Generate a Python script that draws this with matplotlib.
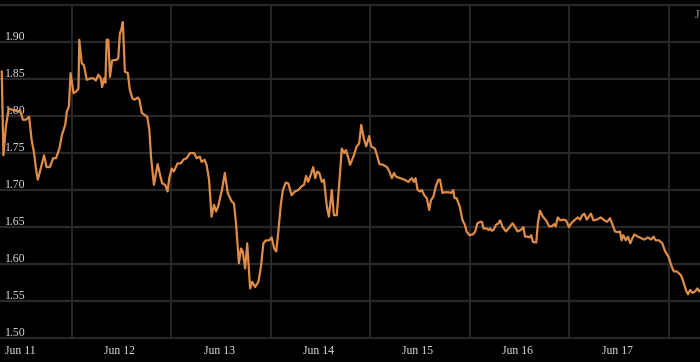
import matplotlib
matplotlib.use("Agg")
from matplotlib import pyplot as plt

# hours since Jun 11 00:00 and price
hours = [-4.4, -4.0, -3.4, -2.7, -1.6, -0.4, 0.0, 0.7, 1.4, 2.2, 2.8, 3.4, 3.9, 4.3, 5.0,
         5.8, 6.4, 7.2, 8.0, 8.7, 9.5, 10.1, 10.9, 11.3, 11.8, 12.2, 12.9, 13.5, 14.1, 14.3,
         14.9, 15.4, 16.1, 17.1, 17.7, 18.3, 18.9, 19.5, 19.8, 20.3, 20.6, 20.9, 21.3, 21.7,
         22.2, 23.3, 23.7, 24.1, 24.4, 24.8, 25.3, 26.0, 26.5, 27.1, 27.6, 28.4, 28.8, 29.4,
         30.2, 30.7, 31.2, 31.6, 32.3, 33.2, 33.8, 34.3, 35.0, 35.6, 36.0, 36.6, 37.1, 38.0,
         38.8, 39.4, 40.2, 41.0, 42.0, 42.6, 43.4, 43.8, 44.5, 45.0, 45.6, 46.2, 46.8, 47.3,
         47.8, 48.7, 49.4, 50.1, 50.7, 51.1, 51.6, 52.1, 52.8, 53.3, 53.7, 54.3, 54.8, 55.5,
         56.0, 56.7, 57.5, 58.1, 58.7, 59.3, 60.1, 60.7, 61.3, 61.8, 62.3, 62.9, 63.4, 64.1,
         64.7, 65.5, 66.3, 67.1, 67.9, 68.5, 69.0, 69.5, 70.1, 70.7, 71.2, 71.7, 72.2, 72.8,
         73.3, 74.0, 74.5, 75.2, 75.7, 76.4, 77.0, 77.6, 78.2, 78.6, 79.2, 79.6, 80.4, 81.2,
         81.8, 82.3, 82.9, 83.5, 84.2, 84.7, 85.6, 86.2, 86.7, 87.6, 88.5, 89.1, 89.7, 90.2,
         90.7, 91.7, 92.7, 93.7, 94.1, 94.5, 95.0, 95.4, 95.9, 96.5, 96.9, 97.5, 98.1, 98.7,
         99.1, 99.7, 100.3, 100.9, 101.3, 101.9, 102.5, 103.3, 104.0, 104.5, 104.8, 105.3,
         106.1, 106.6, 106.9, 107.3, 107.7, 108.4, 109.2, 109.8, 110.3, 111.0, 111.4, 111.8,
         112.6, 113.0, 113.4, 113.8, 114.2, 114.8, 115.4, 115.8, 116.4, 117.2, 117.8, 118.8,
         119.4, 120.0, 120.8, 121.4, 121.8, 122.4, 122.9, 123.3, 123.7, 124.5, 124.9, 125.4,
         126.1, 126.9, 127.6, 128.3, 128.8, 129.2, 129.7, 130.3, 131.1, 131.7, 132.4, 133.1,
         133.7, 134.5, 135.1, 135.6, 136.1, 136.7, 137.3, 137.7, 138.3, 139.1, 140.1, 140.7,
         141.5, 141.9, 142.3, 142.9, 143.5, 144.2, 144.7, 145.1, 145.5, 146.1, 146.6, 147.2,
         147.7, 148.2, 149.0, 149.8, 150.6, 151.4, 152.2, 152.8, 153.3, 154.1, 154.9, 155.6,
         156.4, 157.2, 157.7, 158.4, 159.4, 160.0, 160.6, 161.1, 161.6, 162.2, 162.8, 163.4,
         163.8, 164.2]
price = [1.860, 1.747, 1.786, 1.810, 1.808, 1.806, 1.808, 1.795, 1.795, 1.799, 1.768, 1.750,
         1.727, 1.714, 1.729, 1.747, 1.731, 1.731, 1.743, 1.743, 1.756, 1.774, 1.788, 1.806,
         1.813, 1.858, 1.831, 1.833, 1.837, 1.903, 1.871, 1.869, 1.849, 1.851, 1.851, 1.848,
         1.856, 1.851, 1.839, 1.851, 1.845, 1.903, 1.903, 1.853, 1.875, 1.876, 1.878, 1.912,
         1.916, 1.927, 1.860, 1.858, 1.835, 1.824, 1.822, 1.825, 1.822, 1.804, 1.801, 1.799,
         1.781, 1.745, 1.707, 1.735, 1.720, 1.709, 1.707, 1.698, 1.716, 1.729, 1.725, 1.736,
         1.736, 1.741, 1.743, 1.750, 1.750, 1.743, 1.745, 1.738, 1.741, 1.734, 1.714, 1.664,
         1.680, 1.671, 1.678, 1.700, 1.723, 1.696, 1.689, 1.684, 1.682, 1.655, 1.601, 1.621,
         1.617, 1.594, 1.628, 1.567, 1.576, 1.569, 1.576, 1.596, 1.628, 1.632, 1.632, 1.636,
         1.621, 1.617, 1.644, 1.680, 1.700, 1.710, 1.709, 1.693, 1.698, 1.700, 1.705, 1.707,
         1.719, 1.711, 1.720, 1.731, 1.716, 1.725, 1.723, 1.711, 1.714, 1.678, 1.664, 1.700,
         1.666, 1.666, 1.709, 1.756, 1.750, 1.754, 1.743, 1.734, 1.745, 1.759, 1.763, 1.788,
         1.770, 1.759, 1.773, 1.759, 1.756, 1.745, 1.735, 1.734, 1.731, 1.725, 1.716, 1.723,
         1.718, 1.716, 1.714, 1.711, 1.714, 1.716, 1.711, 1.716, 1.700, 1.698, 1.700, 1.693,
         1.689, 1.673, 1.686, 1.691, 1.705, 1.714, 1.714, 1.696, 1.697, 1.697, 1.696, 1.700,
         1.689, 1.689, 1.677, 1.662, 1.657, 1.653, 1.644, 1.639, 1.640, 1.644, 1.655, 1.657,
         1.657, 1.648, 1.648, 1.646, 1.648, 1.645, 1.646, 1.653, 1.655, 1.659, 1.650, 1.644,
         1.648, 1.655, 1.650, 1.644, 1.646, 1.650, 1.637, 1.637, 1.636, 1.639, 1.630, 1.629,
         1.655, 1.672, 1.664, 1.659, 1.651, 1.651, 1.654, 1.651, 1.663, 1.659, 1.660, 1.659,
         1.650, 1.656, 1.659, 1.663, 1.660, 1.666, 1.668, 1.660, 1.665, 1.668, 1.659, 1.660,
         1.663, 1.660, 1.657, 1.659, 1.662, 1.653, 1.644, 1.643, 1.644, 1.632, 1.639, 1.632,
         1.637, 1.628, 1.635, 1.640, 1.637, 1.635, 1.633, 1.636, 1.633, 1.637, 1.632, 1.632,
         1.628, 1.617, 1.610, 1.596, 1.590, 1.590, 1.585, 1.576, 1.565, 1.559, 1.565, 1.561,
         1.563, 1.567, 1.563, 1.565]

y_ticks = [1.50, 1.55, 1.60, 1.65, 1.70, 1.75, 1.80, 1.85, 1.90, 1.95]
day_labels = ["Jun 11", "Jun 12", "Jun 13", "Jun 14", "Jun 15", "Jun 16", "Jun 17"]
day_hours = [0, 24, 48, 72, 96, 120, 144]
grid_hours = [12.5, 36.5, 60.5, 84.5, 108.5, 132.5, 156.5]

plt.rcParams['font.family'] = ['Liberation Serif', 'DejaVu Serif']

fig = plt.figure(figsize=(7, 3.62), dpi=100, facecolor='black')
ax = fig.add_axes([0, 0, 1, 1])
ax.set_facecolor('black')
ax.set_xlim(-4.82, 164.0)
ax.set_ylim(1.4676, 1.9568)
for s in ax.spines.values():
    s.set_visible(False)
ax.set_xticks([])
ax.set_yticks([])

grid_c = '#282828'
ax.hlines(y_ticks, -10, 170, color=grid_c, lw=1.6, zorder=1)
ax.vlines(grid_hours, y_ticks[0], y_ticks[-1], color=grid_c, lw=1.4, zorder=1)

ax.plot(hours, price, color='#de8c48', lw=1.6, zorder=3, solid_joinstyle='round')

txt_c = '#dadada'
for v in y_ticks[:-1]:
    ax.annotate(f"{v:.2f}", xy=(5 / 700, v), xycoords=ax.get_yaxis_transform(),
                xytext=(0, 2), textcoords='offset pixels', ha='left', va='baseline',
                fontsize=8.5, color=txt_c, zorder=2)

for h, lab in zip(day_hours, day_labels):
    ax.text(h, 11 / 362, lab, transform=ax.get_xaxis_transform(), ha='center',
            va='center', fontsize=8.5, color=txt_c)

# partly hidden label at the right edge, as in the original
ax.text(695 / 700, 1 - 15 / 362, "Jun 18", transform=ax.transAxes, ha='left',
        va='center', fontsize=8.5, color='#aaaaaa')

fig.savefig('out.png', dpi=100, facecolor='black')
